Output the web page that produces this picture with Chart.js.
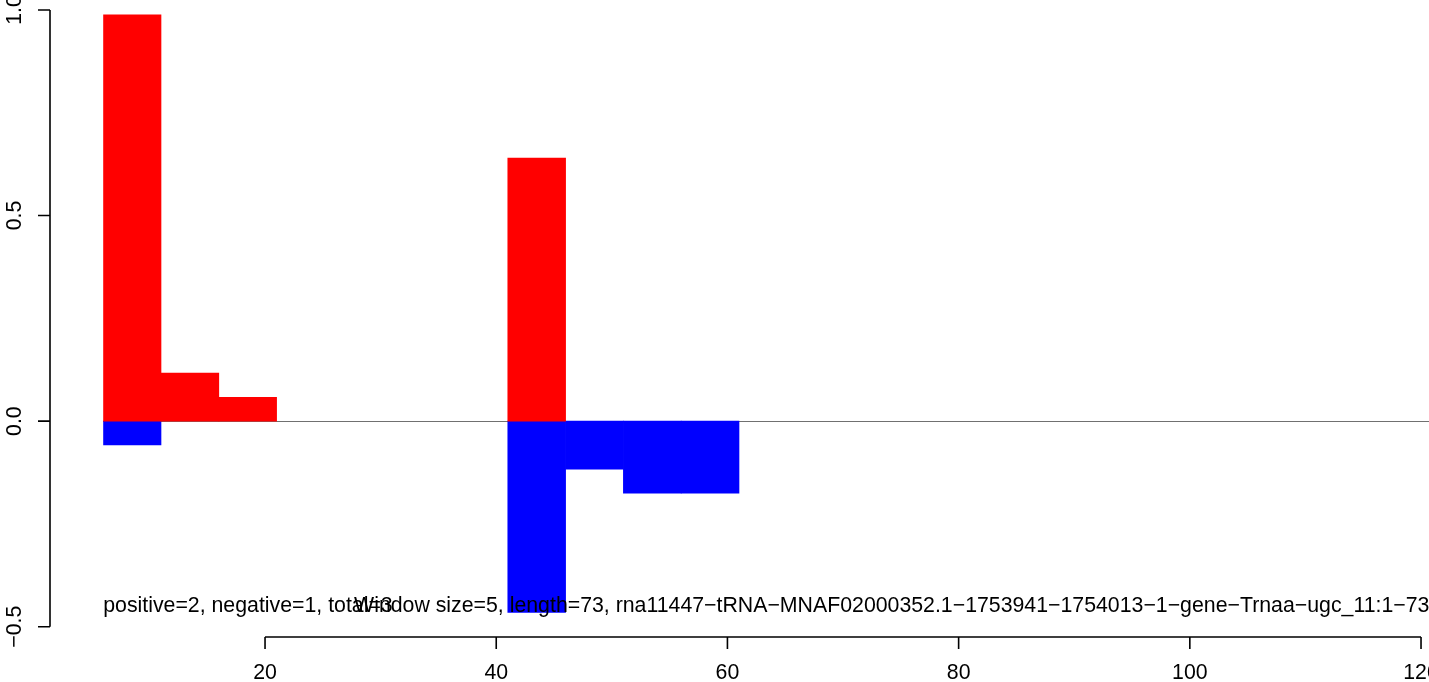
<!DOCTYPE html>
<html>
<head>
<meta charset="utf-8">
<script src="https://cdn.jsdelivr.net/npm/chart.js@4"></script>
<style>
  body { margin: 0; background: #fff; }
  canvas { display: block; }
</style>
</head>
<body>
<canvas id="grafico" width="1429" height="682"></canvas>
<script>
// window centres (window size = 5)
const posicoes = [8.5, 13.5, 18.5, 43.5, 48.5, 53.5, 58.5];
const positivos = [0.988, 0.117, 0.058, 0.640, null, null, null];
const negativos = [-0.058, null, null, -0.465, -0.117, -0.175, -0.175];

const ticksX = [20, 40, 60, 80, 100, 120];
const ticksY = [-0.5, 0, 0.5, 1.0];
const rotulosY = ['\u22120.5', '0.0', '0.5', '1.0'];

const textoContagem = 'positive=2, negative=1, total=3';
const textoJanela = 'Window size=5, length=73, rna11447\u2212tRNA\u2212MNAF02000352.1\u22121753941\u22121754013\u22121\u2212gene\u2212Trnaa\u2212ugc_11:1\u221273';

const fonte = '21.3px "Liberation Sans", Arial, sans-serif';

// eixos no estilo do R, desenhados com as escalas do Chart.js
const eixosR = {
  id: 'eixosR',
  beforeDatasetsDraw(chart) {
    const { ctx, chartArea, scales: { y } } = chart;
    const y0 = Math.floor(y.getPixelForValue(0)) + 0.5;
    ctx.save();
    ctx.strokeStyle = '#707070';
    ctx.lineWidth = 1.2;
    ctx.beginPath();
    ctx.moveTo(chartArea.left, y0);
    ctx.lineTo(chartArea.right, y0);
    ctx.stroke();
    ctx.restore();
  },
  afterDatasetsDraw(chart) {
    const { ctx, scales: { x, y } } = chart;
    ctx.save();
    ctx.font = fonte;
    ctx.fillStyle = '#000';
    ctx.textBaseline = 'middle';
    ctx.textAlign = 'left';
    ctx.fillText(textoContagem, x.getPixelForValue(6), y.getPixelForValue(-0.45));
    ctx.fillText(textoJanela, x.getPixelForValue(27.7), y.getPixelForValue(-0.45));
    ctx.restore();
  },
  afterDraw(chart) {
    const { ctx, scales: { x, y } } = chart;
    ctx.save();
    ctx.strokeStyle = '#000';
    ctx.lineWidth = 1.6;
    ctx.font = fonte;
    ctx.fillStyle = '#000';

    // eixo x
    const ax = 637;
    ctx.beginPath();
    ctx.moveTo(x.getPixelForValue(ticksX[0]), ax);
    ctx.lineTo(x.getPixelForValue(ticksX[ticksX.length - 1]), ax);
    ticksX.forEach(t => {
      const px = x.getPixelForValue(t);
      ctx.moveTo(px, ax);
      ctx.lineTo(px, ax + 12);
    });
    ctx.stroke();
    ctx.textAlign = 'center';
    ctx.textBaseline = 'alphabetic';
    ticksX.forEach(t => ctx.fillText(String(t), x.getPixelForValue(t), 679));

    // eixo y
    const ay = 50;
    ctx.beginPath();
    ctx.moveTo(ay, y.getPixelForValue(ticksY[0]));
    ctx.lineTo(ay, y.getPixelForValue(ticksY[ticksY.length - 1]));
    ticksY.forEach(t => {
      const py = y.getPixelForValue(t);
      ctx.moveTo(ay, py);
      ctx.lineTo(ay - 12, py);
    });
    ctx.stroke();
    ticksY.forEach((t, i) => {
      ctx.save();
      ctx.translate(21, y.getPixelForValue(t));
      ctx.rotate(-Math.PI / 2);
      ctx.fillText(rotulosY[i], 0, 0);
      ctx.restore();
    });
    ctx.restore();
  }
};

new Chart(document.getElementById('grafico'), {
  type: 'bar',
  data: {
    datasets: [{
      data: posicoes.map((p, i) => ({ x: p, y: positivos[i] })),
      backgroundColor: '#ff0000',
      borderWidth: 0
    }, {
      data: posicoes.map((p, i) => ({ x: p, y: negativos[i] })),
      backgroundColor: '#0000ff',
      borderWidth: 0
    }]
  },
  options: {
    responsive: false,
    animation: false,
    barPercentage: 1,
    categoryPercentage: 1,
    layout: { padding: { left: 103.2, right: 0, top: 0, bottom: 45 } },
    plugins: { legend: { display: false }, tooltip: { enabled: false } },
    scales: {
      x: { type: 'linear', min: 6, max: 120.69, offset: false, stacked: true, display: false },
      y: { min: -0.525, max: 1.0243, stacked: true, display: false }
    }
  },
  plugins: [eixosR]
});
</script>
</body>
</html>
